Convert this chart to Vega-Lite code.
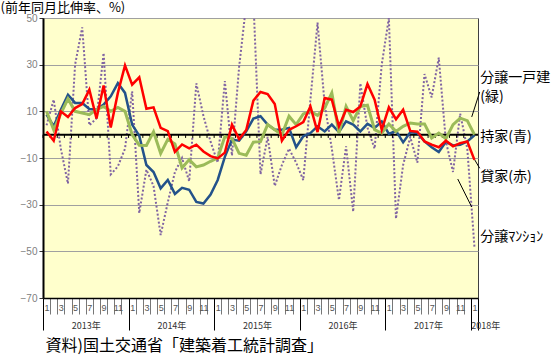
{
  "$schema": "https://vega.github.io/schema/vega-lite/v6.json",
  "width": 435,
  "height": 280,
  "autosize": {"type": "none"},
  "padding": {"left": 43, "top": 18, "right": 82, "bottom": 63},
  "background": "white",
  "config": {
    "view": {"fill": "#FFFFCC", "stroke": "#404040", "strokeWidth": 1},
    "font": "Noto Sans CJK JP"
  },
  "data": {
    "values": [
      {"i": 0, "owner": 8.6, "rental": 1.4, "detached": 10, "condo": 4},
      {"i": 1, "owner": 3.6, "rental": -2.6, "detached": 2.1, "condo": 15},
      {"i": 2, "owner": 10.7, "rental": 10, "detached": 9, "condo": -6},
      {"i": 3, "owner": 17.1, "rental": 7.6, "detached": 15.4, "condo": -21},
      {"i": 4, "owner": 13.6, "rental": 11.4, "detached": 10, "condo": 30},
      {"i": 5, "owner": 13.6, "rental": 13.1, "detached": 9.3, "condo": 46},
      {"i": 6, "owner": 11, "rental": 19.3, "detached": 8.6, "condo": 4},
      {"i": 7, "owner": 10.7, "rental": 6.9, "detached": 10.7, "condo": 7},
      {"i": 8, "owner": 12.9, "rental": 21.1, "detached": 12.1, "condo": 35},
      {"i": 9, "owner": 16.4, "rental": 3.1, "detached": 10, "condo": -17},
      {"i": 10, "owner": 22.1, "rental": 17.9, "detached": 11.7, "condo": -13.6},
      {"i": 11, "owner": 17.9, "rental": 29.7, "detached": 10, "condo": -6},
      {"i": 12, "owner": 4.3, "rental": 21.4, "detached": 0, "condo": 18.6},
      {"i": 13, "owner": -0.5, "rental": 24.6, "detached": -4.5, "condo": -33.6},
      {"i": 14, "owner": -13, "rental": 11.1, "detached": -4.6, "condo": -15},
      {"i": 15, "owner": -16, "rental": 11.7, "detached": 1.2, "condo": -22},
      {"i": 16, "owner": -23, "rental": 2.9, "detached": -8, "condo": -43},
      {"i": 17, "owner": -19.4, "rental": 1.5, "detached": -2, "condo": -29},
      {"i": 18, "owner": -25.4, "rental": -7.4, "detached": -4, "condo": -16},
      {"i": 19, "owner": -22.8, "rental": -4.2, "detached": -14.3, "condo": -10},
      {"i": 20, "owner": -23.6, "rental": -5.9, "detached": -10.7, "condo": -20},
      {"i": 21, "owner": -28.8, "rental": -4.3, "detached": -13.8, "condo": 22},
      {"i": 22, "owner": -29.5, "rental": -7.2, "detached": -13, "condo": 8},
      {"i": 23, "owner": -25.7, "rental": -9.2, "detached": -11.4, "condo": -3},
      {"i": 24, "owner": -19.4, "rental": -10.2, "detached": -10, "condo": -12},
      {"i": 25, "owner": -9.5, "rental": -7.7, "detached": -0.8, "condo": 23},
      {"i": 26, "owner": -2.1, "rental": 4.3, "detached": -1.6, "condo": -9},
      {"i": 27, "owner": -2.6, "rental": -1.9, "detached": -8, "condo": 29},
      {"i": 28, "owner": 1.4, "rental": 2, "detached": -8.8, "condo": 56},
      {"i": 29, "owner": 6.9, "rental": 14.6, "detached": -3.2, "condo": 58},
      {"i": 30, "owner": 7.9, "rental": 18.3, "detached": -3, "condo": -17},
      {"i": 31, "owner": 4.3, "rental": 17.4, "detached": 4.3, "condo": -1},
      {"i": 32, "owner": 2.1, "rental": 13.1, "detached": 2.1, "condo": -22},
      {"i": 33, "owner": 2.1, "rental": -2.6, "detached": 0, "condo": -13},
      {"i": 34, "owner": 2.9, "rental": 2.1, "detached": 7.9, "condo": -6},
      {"i": 35, "owner": -5.4, "rental": 3.6, "detached": 4.3, "condo": -12},
      {"i": 36, "owner": -0.7, "rental": 5.4, "detached": 8.9, "condo": -19.5},
      {"i": 37, "owner": 0.7, "rental": 12.1, "detached": 10, "condo": 15},
      {"i": 38, "owner": 3.6, "rental": 1.1, "detached": 8.3, "condo": 48},
      {"i": 39, "owner": 1.4, "rental": 15.7, "detached": 11.4, "condo": 13},
      {"i": 40, "owner": 4.3, "rental": 15, "detached": 17.9, "condo": -6},
      {"i": 41, "owner": 1.1, "rental": 3.6, "detached": 0.7, "condo": -28},
      {"i": 42, "owner": 5.7, "rental": 10.7, "detached": 12.1, "condo": -5},
      {"i": 43, "owner": 4.3, "rental": 9.7, "detached": 6, "condo": -33},
      {"i": 44, "owner": 1.4, "rental": 12.1, "detached": 12.1, "condo": 22},
      {"i": 45, "owner": 4.6, "rental": 21.7, "detached": 12.6, "condo": 3},
      {"i": 46, "owner": 2.9, "rental": 15, "detached": 2.1, "condo": -6},
      {"i": 47, "owner": 5.7, "rental": 2.1, "detached": 0.7, "condo": 30},
      {"i": 48, "owner": 0.3, "rental": 11.7, "detached": 4.6, "condo": 50},
      {"i": 49, "owner": 1.6, "rental": 6.6, "detached": 1.4, "condo": -36},
      {"i": 50, "owner": -3.3, "rental": 10.7, "detached": 3.6, "condo": -13},
      {"i": 51, "owner": 1, "rental": 1.6, "detached": 5, "condo": -1},
      {"i": 52, "owner": 0.7, "rental": 1.3, "detached": 4.6, "condo": -12},
      {"i": 53, "owner": -2.9, "rental": -2.9, "detached": 4.6, "condo": 26},
      {"i": 54, "owner": -5.4, "rental": -4.3, "detached": -1.4, "condo": 16},
      {"i": 55, "owner": -7.4, "rental": -5.4, "detached": 0.7, "condo": 33},
      {"i": 56, "owner": -3.1, "rental": -2.6, "detached": -1.7, "condo": -3},
      {"i": 57, "owner": -4.6, "rental": -5, "detached": 4.3, "condo": -16},
      {"i": 58, "owner": -4.3, "rental": -3.6, "detached": 7.1, "condo": 9},
      {"i": 59, "owner": -2.9, "rental": -2.9, "detached": 6, "condo": -6},
      {"i": 60, "owner": -0.3, "rental": -10.8, "detached": 0, "condo": -48}
    ]
  },
  "resolve": {"axis": {"x": "independent", "y": "independent"}},
  "layer": [
    {
      "mark": {"type": "line", "color": "#8064A2", "strokeWidth": 2, "strokeDash": [2, 2], "clip": true},
      "encoding": {
        "x": {"field": "i", "type": "quantitative", "scale": {"domain": [-0.5, 60.5], "nice": false, "zero": false},
          "axis": {
            "orient": "bottom",
            "values": [-0.5,0.5,1.5,2.5,3.5,4.5,5.5,6.5,7.5,8.5,9.5,10.5,11.5,12.5,13.5,14.5,15.5,16.5,17.5,18.5,19.5,20.5,21.5,22.5,23.5,24.5,25.5,26.5,27.5,28.5,29.5,30.5,31.5,32.5,33.5,34.5,35.5,36.5,37.5,38.5,39.5,40.5,41.5,42.5,43.5,44.5,45.5,46.5,47.5,48.5,49.5,50.5,51.5,52.5,53.5,54.5,55.5,56.5,57.5,58.5,59.5,60.5],
            "domain": true, "domainColor": "black", "domainWidth": 1.5,
            "ticks": true, "tickSize": 16, "tickColor": "#777777", "tickWidth": 1,
            "grid": false,
            "labelExpr": "((datum.value + 0.5) % 2 == 0 && datum.value < 60) ? ('' + ((datum.value + 0.5) % 12 + 1)) : ''",
            "labelOffset": 3.566, "labelPadding": -11, "labelAlign": "center", "labelBaseline": "top",
            "labelFont": "Liberation Sans", "labelFontSize": 9, "labelColor": "#555555",
            "labelOverlap": false, "labelFlush": false, "labelBound": false,
            "title": "資料)国土交通省「建築着工統計調査」",
            "titleX": 2, "titleY": 47, "titleAlign": "left", "titleAnchor": null, "titleBaseline": "middle",
            "titleFontSize": 16, "titleFontWeight": "normal", "titleColor": "black", "titleFont": "Noto Sans CJK JP"
          }
        },
        "y": {"field": "condo", "type": "quantitative", "scale": {"domain": [-70, 50], "nice": false, "zero": false},
          "axis": {
            "orient": "left",
            "values": [-70, -50, -30, -10, 10, 30, 50],
            "grid": true, "gridColor": "#a0a0a0", "gridWidth": 1,
            "domain": true, "domainColor": "black", "domainWidth": 2,
            "ticks": true, "tickSize": 4, "tickColor": "#333333",
            "labelColor": "#808080", "labelFontSize": 10, "labelPadding": 2, "labelFont": "Liberation Sans",
            "title": "(前年同月比伸率、%)", "titleAngle": 0, "titleAlign": "left", "titleBaseline": "top",
            "titleX": -43, "titleY": -17, "titleFontSize": 13, "titleFontWeight": "normal", "titleColor": "black",
            "titleFont": "Noto Sans CJK JP"
          }
        }
      }
    },
    {
      "mark": {"type": "rule", "color": "black", "strokeWidth": 1, "xOffset": -3.566},
      "encoding": {
        "x": {"field": "i", "type": "quantitative",
          "axis": {
            "orient": "bottom",
            "values": [-0.5, 11.5, 23.5, 35.5, 47.5, 59.5, 60.5],
            "domain": false, "ticks": true, "tickSize": 32, "tickColor": "black", "tickWidth": 1, "grid": false,
            "labelExpr": "datum.value > 60 ? '' : (2013 + (datum.value + 0.5) / 12) + '年'",
            "labelOffset": {"condition": {"test": "datum.value > 59", "value": 0}, "value": 42.8},
            "labelAlign": {"condition": {"test": "datum.value > 59", "value": "left"}, "value": "center"},
            "labelPadding": -5, "labelBaseline": "middle",
            "labelFont": "Noto Sans CJK JP", "labelFontSize": 9, "labelColor": "#333333",
            "labelOverlap": false, "labelFlush": false, "labelBound": false,
            "title": null
          }
        },
        "y": {"datum": 0, "type": "quantitative", "axis": null},
        "y2": {"datum": -1.4}
      }
    },
    {
      "data": {"values": [{}]},
      "mark": {"type": "rule", "color": "black", "strokeWidth": 2},
      "encoding": {
        "y": {"datum": 0, "type": "quantitative", "axis": null}
      }
    },
    {
      "mark": {"type": "line", "color": "#23528A", "strokeWidth": 2.5, "clip": true},
      "encoding": {
        "x": {"field": "i", "type": "quantitative", "axis": null},
        "y": {"field": "owner", "type": "quantitative", "axis": null}
      }
    },
    {
      "mark": {"type": "line", "color": "#9BBB59", "strokeWidth": 3, "clip": true},
      "encoding": {
        "x": {"field": "i", "type": "quantitative", "axis": null},
        "y": {"field": "detached", "type": "quantitative", "axis": null}
      }
    },
    {
      "mark": {"type": "line", "color": "#FF0000", "strokeWidth": 2.5, "clip": true},
      "encoding": {
        "x": {"field": "i", "type": "quantitative", "axis": null},
        "y": {"field": "rental", "type": "quantitative", "axis": null}
      }
    },
    {
      "data": {"values": [{}]},
      "mark": {"type": "rule", "color": "black", "strokeWidth": 1},
      "encoding": {
        "x": {"datum": 59.62, "type": "quantitative", "axis": null},
        "y": {"datum": 7.6, "type": "quantitative", "axis": null},
        "x2": {"datum": 60.74},
        "y2": {"datum": 18.3}
      }
    },
    {
      "data": {"values": [{}]},
      "mark": {"type": "rule", "color": "black", "strokeWidth": 1},
      "encoding": {
        "x": {"datum": 60.04, "type": "quantitative", "axis": null},
        "y": {"datum": -10.8, "type": "quantitative", "axis": null},
        "x2": {"datum": 60.74},
        "y2": {"datum": -14.4}
      }
    },
    {
      "data": {"values": [{}]},
      "mark": {"type": "rule", "color": "black", "strokeWidth": 1},
      "encoding": {
        "x": {"datum": 57.66, "type": "quantitative", "axis": null},
        "y": {"datum": -19.0, "type": "quantitative", "axis": null},
        "x2": {"datum": 59.62},
        "y2": {"datum": -31.0}
      }
    },
    {
      "data": {"values": [{}]},
      "mark": {"type": "text", "align": "left", "baseline": "middle", "fontSize": 14, "font": "Noto Sans CJK JP", "color": "black", "text": "分譲一戸建"},
      "encoding": {
        "x": {"datum": 60.81, "type": "quantitative", "axis": null},
        "y": {"datum": 24.2, "type": "quantitative", "axis": null}
      }
    },
    {
      "data": {"values": [{}]},
      "mark": {"type": "text", "align": "left", "baseline": "middle", "fontSize": 14, "font": "Noto Sans CJK JP", "color": "black", "text": "(緑)"},
      "encoding": {
        "x": {"datum": 60.81, "type": "quantitative", "axis": null},
        "y": {"datum": 16.3, "type": "quantitative", "axis": null}
      }
    },
    {
      "data": {"values": [{}]},
      "mark": {"type": "text", "align": "left", "baseline": "middle", "fontSize": 14, "font": "Noto Sans CJK JP", "color": "black", "text": "持家(青)"},
      "encoding": {
        "x": {"datum": 60.81, "type": "quantitative", "axis": null},
        "y": {"datum": -1.1, "type": "quantitative", "axis": null}
      }
    },
    {
      "data": {"values": [{}]},
      "mark": {"type": "text", "align": "left", "baseline": "middle", "fontSize": 14, "font": "Noto Sans CJK JP", "color": "black", "text": "貸家(赤)"},
      "encoding": {
        "x": {"datum": 60.81, "type": "quantitative", "axis": null},
        "y": {"datum": -18.0, "type": "quantitative", "axis": null}
      }
    },
    {
      "data": {"values": [{}]},
      "mark": {"type": "text", "align": "left", "baseline": "middle", "fontSize": 14, "font": "Noto Sans CJK JP", "color": "black", "text": "分譲ﾏﾝｼｮﾝ"},
      "encoding": {
        "x": {"datum": 60.81, "type": "quantitative", "axis": null},
        "y": {"datum": -43.7, "type": "quantitative", "axis": null}
      }
    }
  ]
}
